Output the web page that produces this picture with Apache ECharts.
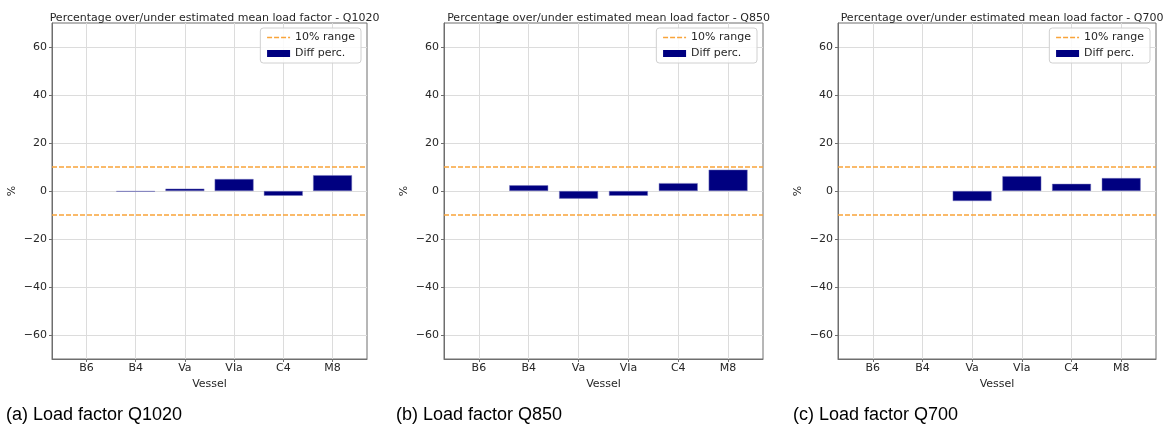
<!DOCTYPE html>
<html>
<head>
<meta charset="utf-8">
<script src="https://cdn.jsdelivr.net/npm/echarts@6/dist/echarts.min.js"></script>
<style>
  html, body { margin: 0; padding: 0; background: #fff; }
  #main { width: 1168px; height: 427px; }
</style>
</head>
<body>
<div id="main"></div>
<script>
// vessel classes on the x axis
const vessels = ['B6', 'B4', 'Va', 'VIa', 'C4', 'M8']
// diff percentage per load factor (null = no bar)
const diffQ1020 = [null, -0.3, 1.0, 5.0, -2.0, 6.6]
const diffQ850 = [null, 2.4, -3.2, -2.0, 3.3, 8.9]
const diffQ700 = [null, null, -4.2, 6.2, 3.0, 5.4]
// +/- 10% band
const rangeLines = [10, -10]
const yTicks = [-60, -40, -20, 0, 20, 40, 60]

const panelTitles = [
  'Percentage over/under estimated mean load factor - Q1020',
  'Percentage over/under estimated mean load factor - Q850',
  'Percentage over/under estimated mean load factor - Q700'
]
const captions = ['(a) Load factor Q1020', '(b) Load factor Q850', '(c) Load factor Q700']
const panelData = [diffQ1020, diffQ850, diffQ700]

// plot boxes (px)
const boxes = [
  { left: 52, width: 315 },
  { left: 444, width: 319 },
  { left: 838, width: 318 }
]
const captionX = [1, 391, 788]
const gridTop = 23
const gridHeight = 336

const font = 'DejaVu Sans'
const textColor = '#262626'
const gridColor = '#dcdcdc'
const spineColor = '#6e6e6e'
const orange = '#f9a43a'
const navy = '#000080'

const grids = [], xAxes = [], yAxes = [], series = [], titles = [], legends = []

boxes.forEach((b, i) => {
  grids.push({
    left: b.left, top: gridTop, width: b.width, height: gridHeight,
    show: true, borderColor: spineColor, borderWidth: 1, containLabel: false
  })
  xAxes.push({
    gridIndex: i, type: 'value', min: -0.7, max: 5.7,
    name: 'Vessel', nameLocation: 'middle', nameGap: 14,
    nameTextStyle: { fontFamily: font, fontSize: 11, color: textColor },
    axisLine: { show: true, onZero: false, lineStyle: { color: spineColor } },
    axisTick: { show: true, length: 3, customValues: [0, 1, 2, 3, 4, 5], lineStyle: { color: spineColor } },
    axisLabel: {
      customValues: [0, 1, 2, 3, 4, 5], margin: 4,
      fontFamily: font, fontSize: 11, color: textColor,
      formatter: v => vessels[Math.round(v)]
    },
    splitLine: { show: true, lineStyle: { color: gridColor, width: 1 } }
  })
  yAxes.push({
    gridIndex: i, type: 'value', min: -70, max: 70,
    name: '%', nameLocation: 'middle', nameGap: 34,
    nameTextStyle: { fontFamily: font, fontSize: 11, color: textColor },
    axisLine: { show: true, onZero: false, lineStyle: { color: spineColor } },
    axisTick: { show: true, length: 3, customValues: yTicks, lineStyle: { color: spineColor } },
    axisLabel: {
      customValues: yTicks, margin: 5,
      fontFamily: font, fontSize: 11, color: textColor,
      formatter: v => String(v).replace('-', '\u2212')
    },
    splitLine: { show: true, lineStyle: { color: gridColor, width: 1 } }
  })
  series.push({
    name: '10% range', type: 'line', xAxisIndex: i, yAxisIndex: i,
    color: orange,
    data: [], symbol: 'none',
    lineStyle: { color: orange, type: [5, 2], width: 1.5 },
    itemStyle: { color: orange },
    markLine: {
      silent: true, symbol: 'none', label: { show: false },
      lineStyle: { color: orange, type: [5, 2], width: 1.5 },
      data: rangeLines.map(v => ({ yAxis: v }))
    }
  })
  series.push({
    name: 'Diff perc.', type: 'bar', xAxisIndex: i, yAxisIndex: i,
    color: navy,
    barWidth: 39,
    itemStyle: { color: navy, borderColor: 'rgba(120,120,190,0.8)', borderWidth: 0.6 },
    data: panelData[i].map((v, k) => v === null ? null : [k, v])
  })
  titles.push({
    text: panelTitles[i], left: b.left + b.width / 2, top: 8, textAlign: 'center',
    textStyle: { fontFamily: font, fontSize: 11, fontWeight: 'normal', color: textColor }
  })
  titles.push({
    text: captions[i], left: captionX[i], top: 401,
    textStyle: { fontFamily: 'Liberation Sans', fontSize: 18, fontWeight: 'normal', color: '#000' }
  })
  legends.push({
    right: 1168 - (b.left + b.width) + 6, top: 28, orient: 'vertical',
    data: [
      {
        name: '10% range',
        // hide the marker the line icon adds, keep only the dashed stroke
        itemStyle: { color: 'rgba(0,0,0,0)', borderWidth: 0, opacity: 0 },
        lineStyle: { color: orange, type: [5, 2], width: 1.5 }
      },
      { name: 'Diff perc.', icon: 'rect', itemStyle: { color: navy, borderWidth: 0 } }
    ],
    itemWidth: 23, itemHeight: 7, itemGap: 5,
    padding: [4, 6, 4, 6],
    borderColor: '#d0d0d0', borderWidth: 1, borderRadius: 3,
    backgroundColor: 'rgba(255,255,255,0.85)',
    textStyle: { fontFamily: font, fontSize: 11, color: textColor },
    selectedMode: false
  })
})

const chart = echarts.init(document.getElementById('main'), null, { renderer: 'canvas' })
chart.setOption({
  backgroundColor: '#fff',
  animation: false,
  title: titles,
  legend: legends,
  grid: grids,
  xAxis: xAxes,
  yAxis: yAxes,
  series: series
})
</script>
</body>
</html>
